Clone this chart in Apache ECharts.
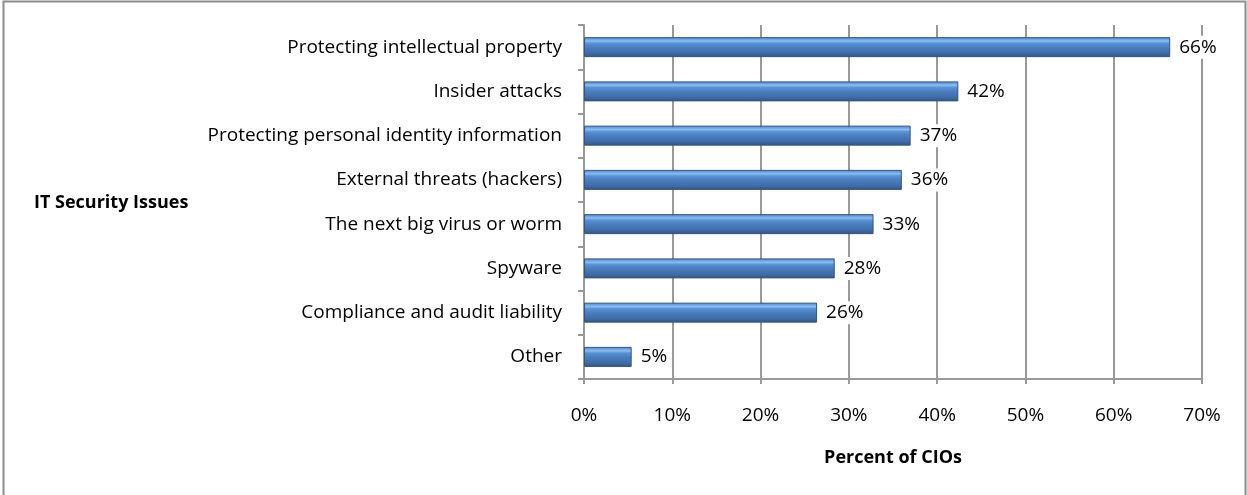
<!DOCTYPE html>
<html>
<head>
<meta charset="utf-8">
<script src="https://cdn.jsdelivr.net/npm/echarts@6/dist/echarts.min.js"></script>
<style>html,body{margin:0;padding:0;background:#fff;}#c{width:1247px;height:495px;}</style>
</head>
<body>
<div id="c"></div>
<script>
const categories = [
  'Protecting intellectual property',
  'Insider attacks',
  'Protecting personal identity information',
  'External threats (hackers)',
  'The next big virus or worm',
  'Spyware',
  'Compliance and audit liability',
  'Other'
];
const values = [66.4, 42.4, 37.0, 36.0, 32.8, 28.4, 26.4, 5.4];
const xTicks = [0, 10, 20, 30, 40, 50, 60, 70];
const xAxisTitle = 'Percent of CIOs';
const yAxisTitle = 'IT Security Issues';

const FONT = 'Open Sans';
const FS = 19;
const chart = echarts.init(document.getElementById('c'), null, {renderer: 'canvas'});
chart.setOption({
  animation: false,
  backgroundColor: '#fff',
  grid: {left: 584, right: 45, top: 25, bottom: 116, containLabel: false},
  graphic: [
    {type: 'rect', shape: {x: 3.5, y: 1.5, width: 1242, height: 510}, style: {fill: 'none', stroke: '#8c8c8c', lineWidth: 2}, z: 0},
    {type: 'text', left: 34, top: 194, style: {text: yAxisTitle, font: 'bold 18px ' + FONT, fill: '#000'}}
  ],
  xAxis: {
    type: 'value', min: xTicks[0], max: xTicks[xTicks.length - 1], interval: 10,
    name: xAxisTitle, nameLocation: 'middle', nameGap: 70,
    nameTextStyle: {fontFamily: FONT, fontWeight: 'bold', fontSize: 18, color: '#000'},
    axisLine: {show: true, lineStyle: {color: '#999', width: 2}},
    axisTick: {show: true, length: 5, lineStyle: {color: '#999', width: 2}},
    splitLine: {show: true, lineStyle: {color: '#999', width: 2}},
    axisLabel: {fontFamily: FONT, fontSize: FS, color: '#000', margin: 27, formatter: v => v + '%'}
  },
  yAxis: {
    type: 'category', data: categories, inverse: true,
    axisLine: {show: true, lineStyle: {color: '#999', width: 2}},
    axisTick: {show: true, length: 6, lineStyle: {color: '#999', width: 2}},
    axisLabel: {fontFamily: FONT, fontSize: FS, color: '#000', margin: 22, padding: [3, 0, 0, 0]}
  },
  series: [{
    type: 'bar', data: values, barWidth: 20,
    itemStyle: {
      color: new echarts.graphic.LinearGradient(0, 0, 0, 1, [
        {offset: 0, color: '#4a7fc0'},
        {offset: 0.1, color: '#6aa0e0'},
        {offset: 0.2, color: '#8abdf0'},
        {offset: 0.3, color: '#5a92d6'},
        {offset: 0.5, color: '#4a7fc0'},
        {offset: 0.8, color: '#3f6ca6'},
        {offset: 1, color: '#34547f'}
      ]),
      borderColor: '#34557f', borderWidth: 1
    },
    label: {
      show: true, position: 'right', distance: 7,
      fontFamily: FONT, fontSize: FS, color: '#000',
      backgroundColor: '#fff', padding: [3, 2, 1, 2],
      formatter: p => Math.round(p.value) + '%'
    }
  }]
});
</script>
</body>
</html>
